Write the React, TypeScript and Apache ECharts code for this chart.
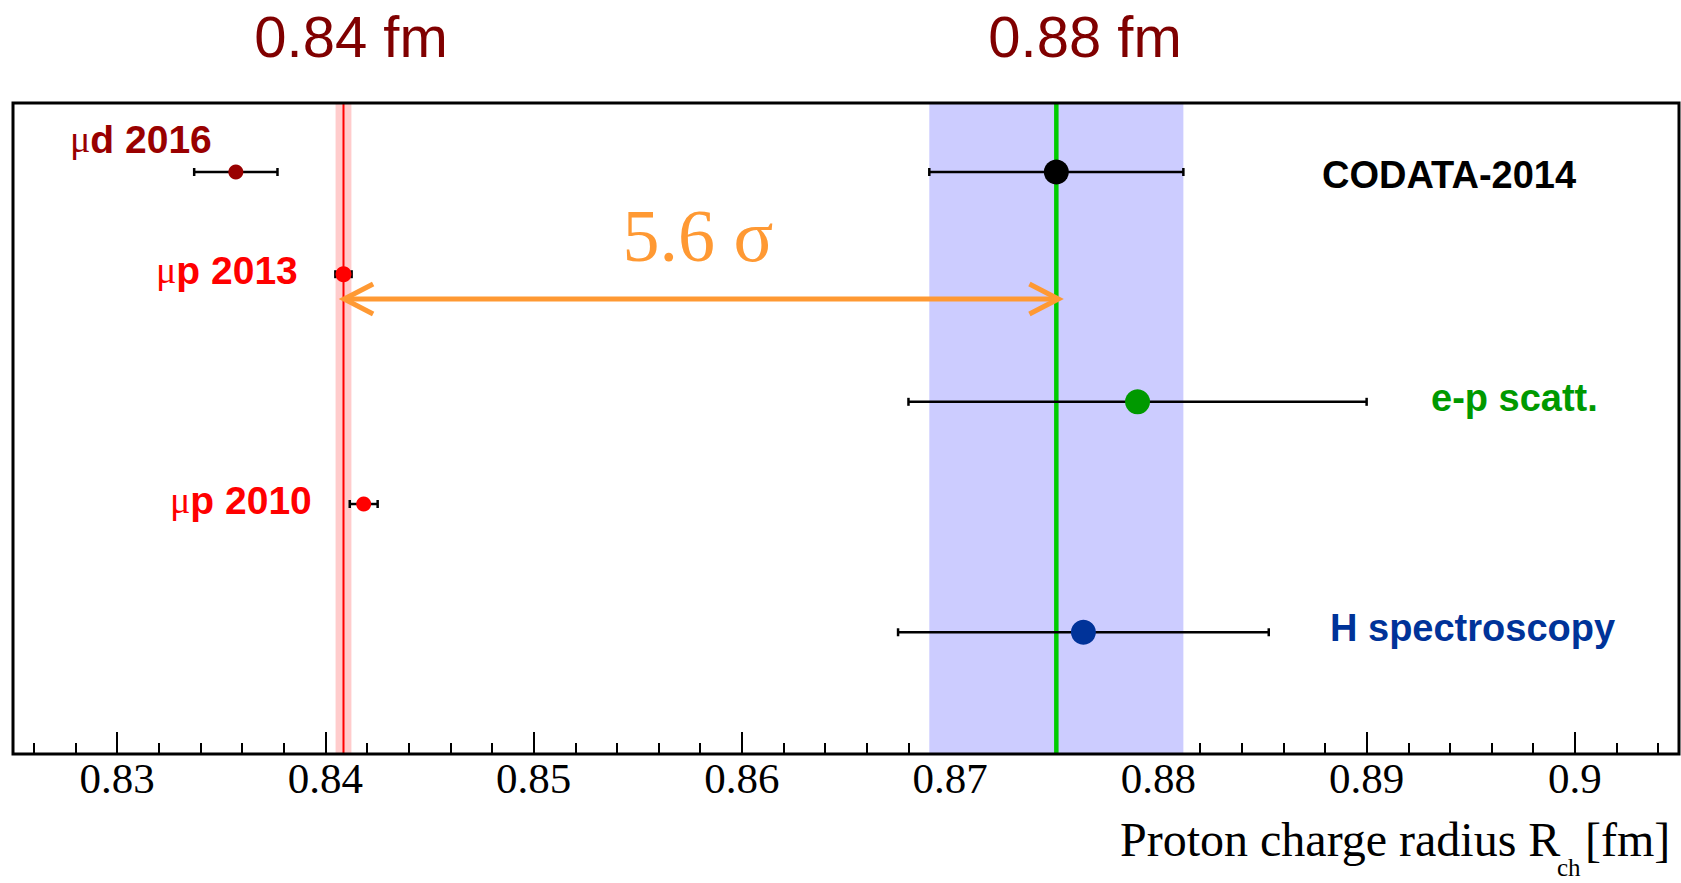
import React, { useEffect, useRef } from "react";
import * as echarts from "echarts";

// ---- data ----
const labels = ["μd 2016", "μp 2013", "μp 2010", "CODATA-2014", "e-p scatt.", "H spectroscopy"];
const radius = [0.8357, 0.84087, 0.84184, 0.8751, 0.879, 0.8764];
const errors = [0.002, 0.00039, 0.00067, 0.0061, 0.011, 0.0089];
const rowY = [89.4, 73.7, 38.4, 89.4, 54.1, 18.7];
const pointColors = ["#990000", "#ff0000", "#ff0000", "#000000", "#009900", "#003399"];
const pointSizes = [15, 16, 15, 25, 25, 25];

const muonicValue = 0.84087;
const muonicError = 0.00038;
const codataValue = 0.8751;
const codataError = 0.0061;

const bandValues = [muonicValue, codataValue];
const bandErrors = [muonicError, codataError];
const bandColors = ["#ffcccc", "#ccccff"];
const lineColors = ["#ff0000", "#00cc00"];
const lineWidths = [2, 4.5];

const arrowFrom = 0.8409;
const arrowTo = 0.8752;
const arrowY = 69.9;

const xMin = 0.825;
const xMax = 0.905;
const yMin = 0;
const yMax = 100;

const topLabels = ["0.84 fm", "0.88 fm"];
const sigmaLabel = "5.6 σ";

// ---- layout (pixels) ----
const GRID = { left: 13, top: 103, right: 2, bottom: 129 };
const W = 1681;
const H = 883;

const labelPos = [
  { x: 70, y: 139 },
  { x: 156, y: 270 },
  { x: 170, y: 500 },
  { x: 1322, y: 175 },
  { x: 1431, y: 398 },
  { x: 1330, y: 628 },
];

const SANS = "'Liberation Sans', Arial, Helvetica, sans-serif";
const SERIF = "'Liberation Serif', 'Times New Roman', serif";

function labelText(i: number) {
  const t = labels[i];
  if (t.startsWith("μ")) {
    return {
      text: `{m|μ}{b|${t.slice(1)}}`,
      rich: {
        m: { fontFamily: SERIF, fontSize: 38, fill: pointColors[i], fontWeight: "normal" },
        b: { fontFamily: SANS, fontSize: 39, fill: pointColors[i], fontWeight: "bold" },
      },
    };
  }
  return { text: t };
}

export default function App() {
  const ref = useRef<HTMLDivElement>(null);

  useEffect(() => {
    if (!ref.current) return;
    const chart = echarts.init(ref.current, null, { renderer: "svg" });

    const errData = radius.map((r, i) => [r - errors[i], r + errors[i], rowY[i]]);
    const dotData = radius.map((r, i) => ({
      value: [r, rowY[i]],
      symbolSize: pointSizes[i],
      itemStyle: { color: pointColors[i], opacity: 1 },
    }));
    const bandData = bandValues.map((v, i) => [v - bandErrors[i], v + bandErrors[i], i]);
    const lineData = bandValues.map((v, i) => [v, i]);

    const graphic: any[] = [
      {
        type: "rect",
        z: 100,
        shape: {
          x: GRID.left,
          y: GRID.top,
          width: W - GRID.left - GRID.right,
          height: H - GRID.top - GRID.bottom,
        },
        style: { fill: "none", stroke: "#000", lineWidth: 3 },
        silent: true,
      },
      ...topLabels.map((t, i) => ({
        type: "text",
        z: 100,
        x: i === 0 ? 351 : 1085,
        y: 36,
        style: {
          text: t,
          fontFamily: SANS,
          fontSize: 58,
          fill: "#800000",
          textAlign: "center",
          textVerticalAlign: "middle",
        },
      })),
      {
        type: "text",
        z: 100,
        x: 698,
        y: 236,
        style: {
          text: sigmaLabel,
          fontFamily: SERIF,
          fontSize: 74,
          fill: "#ff9933",
          textAlign: "center",
          textVerticalAlign: "middle",
        },
      },
      {
        type: "text",
        z: 100,
        x: 1120,
        y: 839,
        style: {
          text: "Proton charge radius R",
          fontFamily: SERIF,
          fontSize: 48,
          fill: "#000",
          textAlign: "left",
          textVerticalAlign: "middle",
        },
      },
      {
        type: "text",
        z: 100,
        x: 1557,
        y: 867,
        style: {
          text: "ch",
          fontFamily: SERIF,
          fontSize: 25,
          fill: "#000",
          textAlign: "left",
          textVerticalAlign: "middle",
        },
      },
      {
        type: "text",
        z: 100,
        x: 1585,
        y: 839,
        style: {
          text: "[fm]",
          fontFamily: SERIF,
          fontSize: 48,
          fill: "#000",
          textAlign: "left",
          textVerticalAlign: "middle",
        },
      },
      ...labels.map((_, i) => ({
        type: "text",
        z: 100,
        x: labelPos[i].x,
        y: labelPos[i].y,
        style: {
          ...labelText(i),
          fontFamily: SANS,
          fontSize: 38,
          fontWeight: "bold",
          fill: pointColors[i],
          textAlign: "left",
          textVerticalAlign: "middle",
        },
      })),
    ];

    chart.setOption({
      animation: false,
      backgroundColor: "#ffffff",
      grid: { ...GRID, containLabel: false, show: false },
      xAxis: {
        type: "value",
        min: xMin,
        max: xMax,
        splitNumber: 8,
        axisLine: { show: false },
        splitLine: { show: false },
        axisTick: { show: true, inside: true, length: 22, lineStyle: { color: "#000", width: 2 } },
        minorTick: { show: true, splitNumber: 5, length: 11, lineStyle: { color: "#000", width: 2 } },
        axisLabel: {
          show: true,
          showMinLabel: false,
          showMaxLabel: false,
          margin: 3,
          fontFamily: SERIF,
          fontSize: 43,
          color: "#000",
          formatter: (v: number) => {
            const k = v * 100;
            if (Math.abs(k - Math.round(k)) > 1e-6) return "";
            return String(Math.round(k) / 100);
          },
        },
      },
      yAxis: { type: "value", min: yMin, max: yMax, show: false },
      graphic,
      series: [
        {
          type: "custom",
          z: 1,
          silent: true,
          clip: true,
          data: bandData,
          renderItem: (params: any, api: any) => {
            const a = api.coord([api.value(0), yMax]);
            const b = api.coord([api.value(1), yMin]);
            return {
              type: "rect",
              shape: { x: a[0], y: a[1], width: b[0] - a[0], height: b[1] - a[1] },
              style: { fill: bandColors[api.value(2)] },
            };
          },
        },
        {
          type: "custom",
          z: 2,
          silent: true,
          clip: true,
          data: lineData,
          renderItem: (params: any, api: any) => {
            const a = api.coord([api.value(0), yMax]);
            const b = api.coord([api.value(0), yMin]);
            const k = api.value(1);
            return {
              type: "line",
              shape: { x1: a[0], y1: a[1], x2: b[0], y2: b[1] },
              style: { stroke: lineColors[k], lineWidth: lineWidths[k] },
            };
          },
        },
        {
          type: "custom",
          z: 3,
          silent: true,
          clip: false,
          data: errData,
          renderItem: (params: any, api: any) => {
            const a = api.coord([api.value(0), api.value(2)]);
            const b = api.coord([api.value(1), api.value(2)]);
            const s = { stroke: "#000", lineWidth: 2.5 };
            const cap = 4;
            return {
              type: "group",
              children: [
                { type: "line", shape: { x1: a[0], y1: a[1], x2: b[0], y2: b[1] }, style: s },
                { type: "line", shape: { x1: a[0], y1: a[1] - cap, x2: a[0], y2: a[1] + cap }, style: s },
                { type: "line", shape: { x1: b[0], y1: b[1] - cap, x2: b[0], y2: b[1] + cap }, style: s },
              ],
            };
          },
        },
        {
          type: "scatter",
          z: 4,
          silent: true,
          symbol: "circle",
          itemStyle: { opacity: 1 },
          data: dotData,
        },
        {
          type: "custom",
          z: 5,
          silent: true,
          clip: false,
          data: [[arrowFrom, arrowTo, arrowY]],
          renderItem: (params: any, api: any) => {
            const a = api.coord([api.value(0), api.value(2)]);
            const b = api.coord([api.value(1), api.value(2)]);
            const s = { stroke: "#ff9933", lineWidth: 5, fill: "none" };
            const hx = 29;
            const hy = 15;
            return {
              type: "group",
              children: [
                { type: "line", shape: { x1: a[0] + 2, y1: a[1], x2: b[0] - 2, y2: b[1] }, style: s },
                {
                  type: "polyline",
                  shape: { points: [[a[0] + hx, a[1] - hy], [a[0], a[1]], [a[0] + hx, a[1] + hy]] },
                  style: s,
                },
                {
                  type: "polyline",
                  shape: { points: [[b[0] - hx, b[1] - hy], [b[0], b[1]], [b[0] - hx, b[1] + hy]] },
                  style: s,
                },
              ],
            };
          },
        },
      ],
    });

    return () => chart.dispose();
  }, []);

  return (
    <div
      ref={ref}
      style={{ position: "absolute", left: 0, top: 0, width: W, height: H, background: "#fff" }}
    />
  );
}
